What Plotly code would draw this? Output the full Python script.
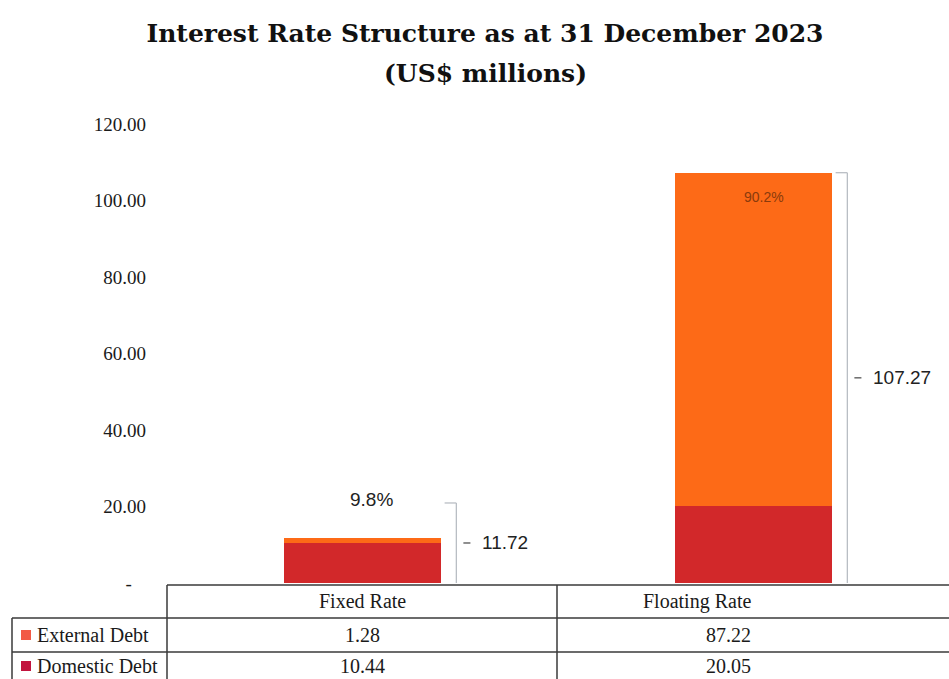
import plotly.graph_objects as go

# Debt by interest rate type, US$ millions
categories = ["Fixed Rate", "Floating Rate"]
external_debt = [1.28, 87.22]
domestic_debt = [10.44, 20.05]
series_names = ["External Debt", "Domestic Debt"]
y_ticks = [0, 20, 40, 60, 80, 100, 120]
y_tick_labels = ["-\u00a0\u00a0\u00a0", "20.00", "40.00", "60.00", "80.00", "100.00", "120.00"]

totals = [round(e + d, 2) for e, d in zip(external_debt, domestic_debt)]
grand_total = sum(totals)
shares = [t / grand_total * 100 for t in totals]

W, H = 949, 679
EXT_COLOR = "#FD6A17"
DOM_COLOR = "#D2282A"
EXT_KEY = "#F25A45"
DOM_KEY = "#C2143F"
SERIF = "Liberation Serif, Times New Roman, serif"
SANS = "Liberation Sans, Arial, sans-serif"
TITLE_FONT = "DejaVu Serif, serif"


def px(x):
    return x / W


def py(y):
    return 1 - y / H


xs = list(range(len(categories)))

fig = go.Figure()
fig.add_trace(go.Bar(x=xs, y=domestic_debt, name=series_names[1], width=0.40,
                     marker=dict(color=DOM_COLOR, line=dict(width=0))))
fig.add_trace(go.Bar(x=xs, y=external_debt, name=series_names[0], width=0.40,
                     marker=dict(color=EXT_COLOR, line=dict(width=0))))

shapes = []
annotations = []

# Total brackets beside each bar, with the share label
for i, (tot, share) in enumerate(zip(totals, shares)):
    label_inside = tot > 50
    top = tot if label_inside else tot + 9.2
    bx = i + 0.24
    shapes.append(dict(type="line", xref="x", yref="y", x0=bx, x1=bx, y0=0, y1=top,
                       line=dict(color="#b9bec4", width=1.3)))
    shapes.append(dict(type="line", xref="x", yref="y", x0=bx - 0.03, x1=bx, y0=top, y1=top,
                       line=dict(color="#b9bec4", width=1.3)))
    shapes.append(dict(type="line", xref="x", yref="y", x0=bx + 0.018, x1=bx + 0.036,
                       y0=top / 2, y1=top / 2, line=dict(color="#444", width=1.2)))
    annotations.append(dict(x=bx + 0.06, y=top / 2, xref="x", yref="y", text=f"{tot:.2f}",
                            showarrow=False, xanchor="left", yanchor="middle",
                            font=dict(family=SANS, size=19, color="#222")))
    if label_inside:
        annotations.append(dict(x=i + 0.028, y=tot - 6.4, xref="x", yref="y",
                                text=f"{share:.1f}%", showarrow=False, yanchor="middle",
                                font=dict(family=SANS, size=14, color="#8a3a0c")))
    else:
        annotations.append(dict(x=i + 0.023, y=tot + 10, xref="x", yref="y",
                                text=f"{share:.1f}%", showarrow=False, yanchor="middle",
                                font=dict(family=SANS, size=19, color="#222")))

# Data table under the plot
line_style = dict(color="#3a3a3a", width=1.5)
col_edges = [12, 167, 557, 949]
row_edges = [585, 618, 652, 679]
shapes.append(dict(type="line", xref="paper", yref="paper", x0=px(167), x1=px(949),
                   y0=py(row_edges[0]), y1=py(row_edges[0]), line=line_style))
for r in row_edges[1:3]:
    shapes.append(dict(type="line", xref="paper", yref="paper", x0=px(col_edges[0]), x1=px(949),
                       y0=py(r), y1=py(r), line=line_style))
shapes.append(dict(type="line", xref="paper", yref="paper", x0=px(col_edges[0]), x1=px(col_edges[0]),
                   y0=py(row_edges[1]), y1=py(H), line=line_style))
for c in col_edges[1:3]:
    shapes.append(dict(type="line", xref="paper", yref="paper", x0=px(c), x1=px(c),
                       y0=py(row_edges[0]), y1=py(H), line=line_style))

table_font = dict(family=SERIF, size=20, color="#1a1a1a")
row_centers = [601, 635, 666]
col_centers = [(col_edges[k] + col_edges[k + 1]) / 2 for k in range(3)]
for j, cat in enumerate(categories):
    annotations.append(dict(x=px(col_centers[j + 1]), y=py(row_centers[0]), xref="paper", yref="paper",
                            text=cat, showarrow=False, yanchor="middle", font=table_font))
rows = [(series_names[0], external_debt, EXT_KEY), (series_names[1], domestic_debt, DOM_KEY)]
for k, (name, vals, key) in enumerate(rows):
    yc = row_centers[k + 1]
    shapes.append(dict(type="rect", xref="paper", yref="paper", x0=px(21), x1=px(31),
                       y0=py(yc + 5), y1=py(yc - 5), fillcolor=key, line=dict(width=0)))
    annotations.append(dict(x=px(35), y=py(yc), xref="paper", yref="paper", text=name,
                            showarrow=False, xanchor="left", yanchor="middle", font=table_font))
    for j, v in enumerate(vals):
        annotations.append(dict(x=px(col_centers[j + 1]), y=py(yc), xref="paper", yref="paper",
                                text=f"{v:.2f}", showarrow=False, yanchor="middle", font=table_font))

# Second title line
annotations.append(dict(x=px(485), y=py(73), xref="paper", yref="paper",
                        text="<b>(US$ millions)</b>", showarrow=False, yanchor="middle",
                        font=dict(family=TITLE_FONT, size=25, color="#111")))

fig.update_layout(
    width=W, height=H,
    margin=dict(l=0, r=0, t=0, b=0, pad=0, autoexpand=False),
    paper_bgcolor="white", plot_bgcolor="white",
    barmode="stack", showlegend=False,
    title=dict(text="<b>Interest Rate Structure as at 31 December 2023</b>",
               x=px(485), xanchor="center", xref="container",
               y=py(33), yanchor="middle", yref="container", automargin=False,
               font=dict(family=TITLE_FONT, size=25, color="#111")),
    xaxis=dict(domain=[px(167), 1], range=[-0.5, 1.5], showticklabels=False, showgrid=False,
               zeroline=False, showline=False, ticks="", automargin=False),
    yaxis=dict(domain=[py(583), py(124)], range=[0, 120], tickvals=y_ticks, ticktext=y_tick_labels,
               showgrid=False, zeroline=False, showline=False, ticks="", ticklabelstandoff=20,
               automargin=False, tickfont=dict(family=SERIF, size=19, color="#1a1a1a")),
    shapes=shapes, annotations=annotations,
)

fig.write_html("out.html")
